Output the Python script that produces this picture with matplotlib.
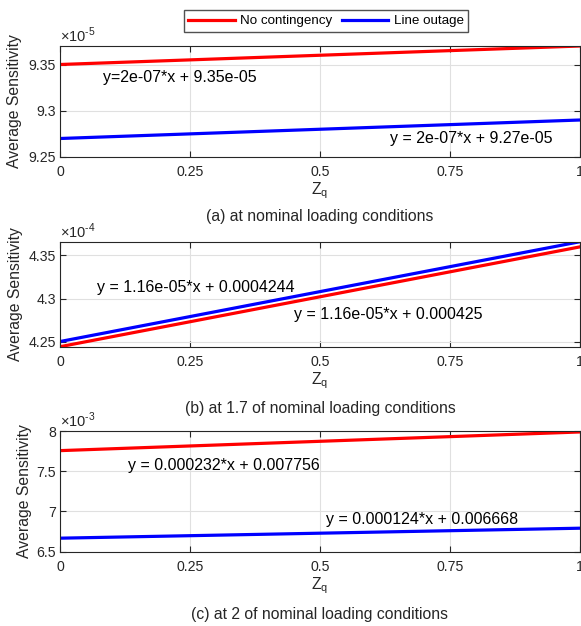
import matplotlib
matplotlib.use("Agg")
import matplotlib.pyplot as plt
import numpy as np

plt.rcParams['font.family'] = ['Liberation Sans', 'DejaVu Sans']

x = [0, 1]
# panel (a)
a_red = [9.35e-5, 9.37e-5]
a_blue = [9.27e-5, 9.29e-5]
# panel (b)
b_red = [4.244e-4, 4.360e-4]
b_blue = [4.250e-4, 4.366e-4]
# panel (c)
c_red = [7.756e-3, 7.988e-3]
c_blue = [6.668e-3, 6.792e-3]

xticks = [0, 0.25, 0.5, 0.75, 1]
xticklabels = ['0', '0.25', '0.5', '0.75', '1']

panels = [
    dict(red=a_red, blue=a_blue, scale=1e-5, exp='-5', ylim=(9.25e-5, 9.37e-5),
         yticks=[9.25e-5, 9.30e-5, 9.35e-5],
         texts=[(0.083, 9.336e-5, 'y=2e-07*x + 9.35e-05'),
                (0.635, 9.2705e-5, 'y = 2e-07*x + 9.27e-05')],
         caption='(a) at nominal loading conditions', capy=217,
         pos=[60/581, 1-157/626, 520/581, 111/626], ylx=-0.073),
    dict(red=b_red, blue=b_blue, scale=1e-4, exp='-4', ylim=(4.244e-4, 4.366e-4),
         yticks=[4.25e-4, 4.30e-4, 4.35e-4],
         texts=[(0.071, 4.313e-4, 'y = 1.16e-05*x + 0.0004244'),
                (0.45, 4.2817e-4, 'y = 1.16e-05*x + 0.000425')],
         caption='(b) at 1.7 of nominal loading conditions', capy=409,
         pos=[60/581, 1-346.7/626, 520/581, 105/626], ylx=-0.0712),
    dict(red=c_red, blue=c_blue, scale=1e-3, exp='-3', ylim=(6.5e-3, 8.0e-3),
         yticks=[6.5e-3, 7.0e-3, 7.5e-3, 8.0e-3],
         texts=[(0.131, 7.569e-3, 'y = 0.000232*x + 0.007756'),
                (0.511, 6.894e-3, 'y = 0.000124*x + 0.006668')],
         caption='(c) at 2 of nominal loading conditions', capy=614,
         pos=[60/581, 1-551.7/626, 520/581, 120.7/626], ylx=-0.0538),
]

fig = plt.figure(figsize=(5.81, 6.26), dpi=100)
dark = '#262626'
handles = None
for p in panels:
    ax = fig.add_axes(p['pos'])
    hr, = ax.plot(x, p['red'], color='#ff0000', lw=2.3, label='No contingency')
    hb, = ax.plot(x, p['blue'], color='#0000ff', lw=2.3, label='Line outage')
    handles = [hr, hb]
    ax.set_xlim(0, 1)
    ax.set_ylim(*p['ylim'])
    ax.set_xticks(xticks)
    ax.set_xticklabels(xticklabels)
    ax.set_yticks(p['yticks'])
    sc = p['scale']
    ax.set_yticklabels(['%g' % round(v / sc, 4) for v in p['yticks']])
    ax.grid(True, color='#e0e0e0', lw=0.8)
    ax.set_axisbelow(True)
    ax.tick_params(direction='in', length=4, width=0.8, colors=dark,
                   labelsize=10.2, top=True, right=True, pad=6)
    ax.tick_params(axis='y', pad=3)
    for s in ax.spines.values():
        s.set_color(dark)
        s.set_linewidth(0.8)
    ax.set_ylabel('Average Sensitivity', fontsize=11.3, color=dark)
    ax.yaxis.set_label_coords(p['ylx'], 0.5)
    ax.set_xlabel('Z$_\\mathregular{q}$', fontsize=11.3, color=dark, labelpad=1)
    ax.text(0.0, 1.01, '\u00d710$^{\\mathregular{' + p['exp'].replace('-', '\u2010') + '}}$',
            transform=ax.transAxes, ha='left', va='bottom', fontsize=10.5, color=dark)
    for tx, ty, s in p['texts']:
        ax.text(tx, ty, s, fontsize=11.5, color='black', ha='left', va='center')
    fig.text(320/581, 1 - p['capy']/626, p['caption'], ha='center',
             va='center', fontsize=11.3, color=dark)

fig.legend(handles=handles, loc='center', bbox_to_anchor=(326/581, 1-21/626),
           ncol=2, fontsize=9.6, frameon=True, fancybox=False, edgecolor=dark,
           handlelength=3.5, columnspacing=0.7, borderpad=0.35, handletextpad=0.4)

fig.savefig('out.png', dpi=100)
